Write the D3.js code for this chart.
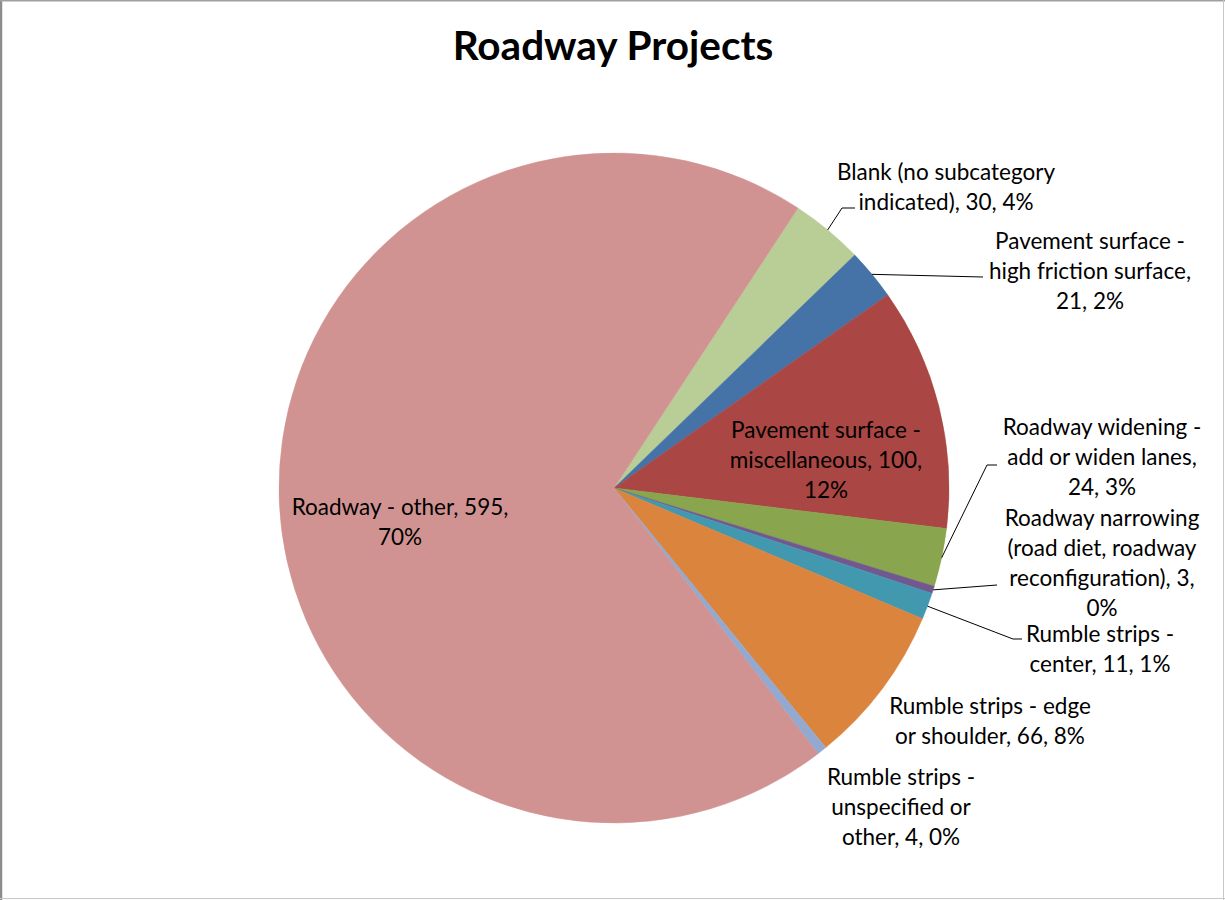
<!DOCTYPE html>
<html><head><meta charset="utf-8">
<script src="https://cdn.jsdelivr.net/npm/d3@7"></script>
<style>body{margin:0;background:#fff}svg{display:block}</style>
</head><body>
<svg id="c" width="1225" height="900"></svg>
<script>
const categories = [
  "Blank (no subcategory indicated)",
  "Pavement surface - high friction surface",
  "Pavement surface - miscellaneous",
  "Roadway widening - add or widen lanes",
  "Roadway narrowing (road diet, roadway reconfiguration)",
  "Rumble strips - center",
  "Rumble strips - edge or shoulder",
  "Rumble strips - unspecified or other",
  "Roadway - other"
];
const values = [30, 21, 100, 24, 3, 11, 66, 4, 595];
const percents = ["4%", "2%", "12%", "3%", "0%", "1%", "8%", "0%", "70%"];
const colors = ["#B9CD96", "#4572A7", "#AA4643", "#89A54E", "#71588F", "#4198AF", "#DB843D", "#93A9CF", "#D19392"];
const labelLines = [
  ["Blank (no subcategory", "indicated), 30, 4%"],
  ["Pavement surface -", "high friction surface,", "21, 2%"],
  ["Pavement surface -", "miscellaneous, 100,", "12%"],
  ["Roadway widening -", "add or widen lanes,", "24, 3%"],
  ["Roadway narrowing", "(road diet, roadway", "reconfiguration), 3,", "0%"],
  ["Rumble strips -", "center, 11, 1%"],
  ["Rumble strips - edge", "or shoulder, 66, 8%"],
  ["Rumble strips -", "unspecified or", "other, 4, 0%"],
  ["Roadway - other, 595,", "70%"]
];
// layout: label centre x, first line y, leader elbow points (null = no leader)
const labelLayout = [
  {x: 946, y: 172, leader: [[842, 208], [855, 208]]},
  {x: 1090, y: 241, leader: [[983, 277]]},
  {x: 826, y: 430, leader: null},
  {x: 1102, y: 427, leader: [[987, 465], [997, 465]]},
  {x: 1102, y: 518, leader: [[997, 585]]},
  {x: 1100, y: 634, leader: [[1013, 639], [1022, 639]]},
  {x: 990, y: 706, leader: null},
  {x: 901, y: 777, leader: null},
  {x: 400, y: 507, leader: null}
];

const svg = d3.select("#c");
const W = 1225, H = 900;
const cx = 614, cy = 488, R = 335;
const startDeg = 33.3;

// frame
svg.append("line").attr("x1", 1).attr("y1", 0).attr("x2", 1).attr("y2", H).attr("stroke", "#8c8c8c").attr("stroke-width", 2.5);
svg.append("line").attr("x1", 0).attr("y1", 0.75).attr("x2", W).attr("y2", 0.75).attr("stroke", "#a0a0a0").attr("stroke-width", 1.5);
svg.append("line").attr("x1", W - 1.5).attr("y1", 0).attr("x2", W - 1.5).attr("y2", H).attr("stroke", "#c8c8c8").attr("stroke-width", 1);
svg.append("line").attr("x1", 0).attr("y1", H - 1.5).attr("x2", W).attr("y2", H - 1.5).attr("stroke", "#c8c8c8").attr("stroke-width", 1);

svg.append("text").attr("x", 613).attr("y", 60).attr("text-anchor", "middle")
  .attr("font-family", "Lato, 'Open Sans', sans-serif").attr("font-weight", "bold").attr("font-size", 40.5)
  .attr("fill", "#000").text("Roadway Projects");

const pie = d3.pie().sort(null).value(d => d)
  .startAngle(startDeg * Math.PI / 180)
  .endAngle(startDeg * Math.PI / 180 + 2 * Math.PI);
const arcs = pie(values);
const arc = d3.arc().innerRadius(0).outerRadius(R);
const g = svg.append("g").attr("transform", `translate(${cx},${cy})`);
g.selectAll("path").data(arcs).join("path")
  .attr("d", arc).attr("fill", (d, i) => colors[i])
  .attr("stroke", (d, i) => colors[i]).attr("stroke-width", 0.5);

// leader lines
arcs.forEach((a, i) => {
  const lay = labelLayout[i];
  if (!lay.leader) return;
  const m = (a.startAngle + a.endAngle) / 2;
  const p0 = [cx + R * Math.sin(m), cy - R * Math.cos(m)];
  const pts = [p0].concat(lay.leader);
  svg.append("path").attr("d", d3.line()(pts)).attr("fill", "none")
    .attr("stroke", "#000").attr("stroke-width", 1);
});

// labels
const lineH = 30;
labelLines.forEach((lines, i) => {
  const lay = labelLayout[i];
  const t = svg.append("text").attr("text-anchor", "middle")
    .attr("font-family", "Lato, 'Open Sans', sans-serif").attr("font-size", 22.5).attr("fill", "#000");
  lines.forEach((s, j) => {
    t.append("tspan").attr("x", lay.x).attr("y", lay.y + j * lineH).attr("dy", "0.35em").text(s);
  });
});
</script>
</body></html>
